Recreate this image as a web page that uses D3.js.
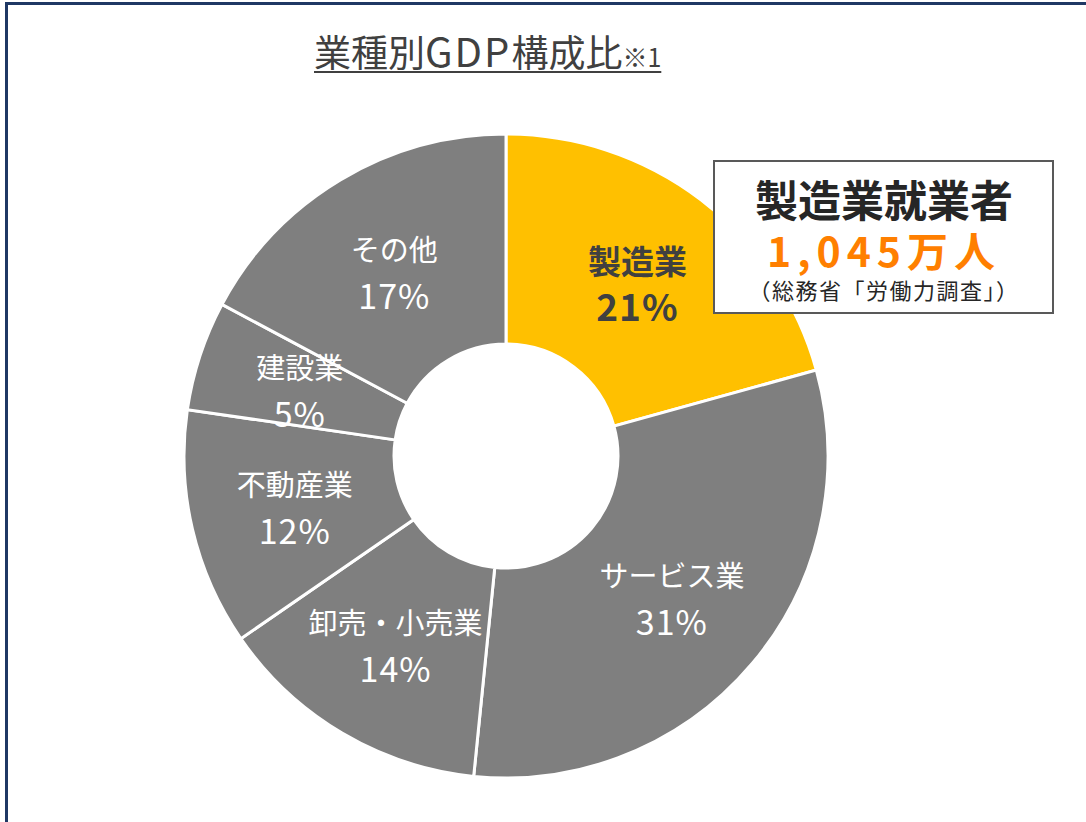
<!DOCTYPE html>
<html>
<head>
<meta charset="utf-8">
<script src="https://cdn.jsdelivr.net/npm/d3@7"></script>
<style>
  body { margin: 0; background: #fff; }
  svg { display: block; font-family: "Noto Sans CJK JP", "Noto Sans", sans-serif; }
</style>
</head>
<body>
<div id="chart"></div>
<script>
// GDP share by industry, clockwise from 12 o'clock
const sectors = ["製造業", "サービス業", "卸売・小売業", "不動産業", "建設業", "その他"];
const shares = [20.7, 30.9, 13.8, 11.9, 5.5, 17.2];
const shareLabels = ["21%", "31%", "14%", "12%", "5%", "17%"];
const sliceColors = ["#FFC000", "#7F7F7F", "#7F7F7F", "#7F7F7F", "#7F7F7F", "#7F7F7F"];

const calloutLines = ["製造業就業者", "1,045万人", "（総務省「労働力調査」）"];

const W = 1086, H = 822;
const cx = 506, cy = 456, outerR = 322, innerR = 112;

const svg = d3.select("#chart").append("svg")
    .attr("width", W)
    .attr("height", H);

// outer frame (runs off the right and bottom edge)
svg.append("rect")
    .attr("x", 6.5).attr("y", 3.5)
    .attr("width", W + 20).attr("height", H + 20)
    .attr("fill", "#fff")
    .attr("stroke", "#1F3864")
    .attr("stroke-width", 3);

// title
const title = svg.append("text")
    .attr("x", 314).attr("y", 67)
    .attr("fill", "#404040")
    .style("font-size", "37px");
title.append("tspan").text("業種別");
title.append("tspan").style("font-size", "40px").style("letter-spacing", "2px").text("GDP");
title.append("tspan").text("構成比");
title.append("tspan").style("font-size", "25px").text("※1");
const tb = title.node().getBBox();
svg.append("line")
    .attr("x1", tb.x).attr("x2", tb.x + tb.width)
    .attr("y1", 72).attr("y2", 72)
    .attr("stroke", "#404040").attr("stroke-width", 2);

const data = sectors.map((s, i) => ({ name: s, value: shares[i], label: shareLabels[i], color: sliceColors[i] }));

const pie = d3.pie().value(d => d.value).sort(null);
const arc = d3.arc().innerRadius(innerR).outerRadius(outerR);

const g = svg.append("g").attr("transform", `translate(${cx},${cy})`);

g.selectAll("path.slice")
  .data(pie(data))
  .enter().append("path")
    .attr("class", "slice")
    .attr("d", arc)
    .attr("fill", d => d.data.color)
    .attr("stroke", "#fff")
    .attr("stroke-width", 3);

const labels = g.selectAll("text.lbl")
  .data(pie(data))
  .enter().append("text")
    .attr("class", "lbl")
    .attr("transform", d => `translate(${arc.centroid(d)})`)
    .attr("text-anchor", "middle")
    .attr("fill", (d, i) => i === 0 ? "#404040" : "#fff")
    .style("font-weight", (d, i) => i === 0 ? "bold" : "normal");

labels.append("tspan")
    .attr("x", 0).attr("y", -9)
    .style("font-size", (d, i) => i === 0 ? "33px" : "29px")
    .text(d => d.data.name);
labels.append("tspan")
    .attr("x", 0).attr("y", (d, i) => i === 0 ? 38 : 39)
    .style("font-size", (d, i) => i === 0 ? "37px" : "34px")
    .style("letter-spacing", "1px")
    .text(d => d.data.label);

// callout box
const box = svg.append("g");
box.append("rect")
    .attr("x", 714).attr("y", 161)
    .attr("width", 339).attr("height", 152)
    .attr("fill", "#fff")
    .attr("stroke", "#595959")
    .attr("stroke-width", 2);
box.append("text")
    .attr("x", 884).attr("y", 217)
    .attr("text-anchor", "middle")
    .attr("fill", "#262626")
    .style("font-size", "43px").style("font-weight", "bold")
    .text(calloutLines[0]);
box.append("text")
    .attr("x", 884).attr("y", 267)
    .attr("text-anchor", "middle")
    .attr("fill", "#FF7F00")
    .style("font-size", "41px").style("font-weight", "bold")
    .style("letter-spacing", "6px")
    .text(calloutLines[1]);
box.append("text")
    .attr("x", 884).attr("y", 299)
    .attr("text-anchor", "middle")
    .attr("fill", "#262626")
    .style("font-size", "22px")
    .style("letter-spacing", "1.5px")
    .text(calloutLines[2]);
</script>
</body>
</html>
